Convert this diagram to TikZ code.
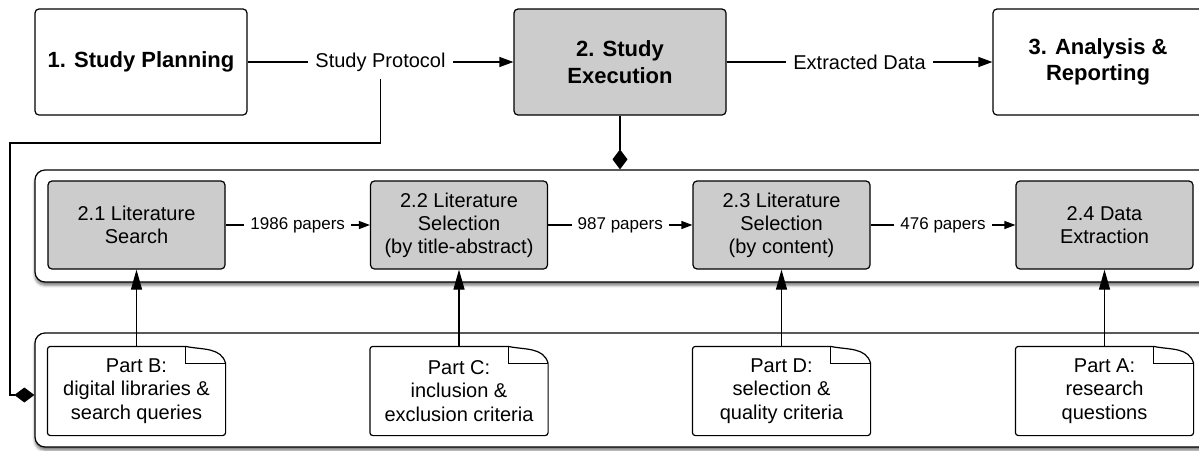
\documentclass[tikz,border=0pt]{standalone}
\usepackage{fontspec}
\setmainfont{Liberation Sans}
\usetikzlibrary{arrows.meta,shadows.blur}
\definecolor{boxgray}{HTML}{CCCCCC}
\begin{document}
\begin{tikzpicture}[x=0.5pt,y=-0.5pt,line width=0.6pt,
  topbox/.style={draw, rounded corners=2pt, minimum width=106pt, minimum height=53pt, align=center, inner sep=0pt, font=\fontsize{11}{13.3}\selectfont\bfseries},
  stepbox/.style={draw, rounded corners=2pt, fill=boxgray, minimum width=88.5pt, minimum height=44pt, align=center, inner sep=0pt, font=\fontsize{10}{11.5}\selectfont},
  notebox/.style={fill=white, minimum width=88.5pt, minimum height=44pt, align=center, inner sep=0pt, font=\fontsize{10}{11.7}\selectfont},
  container/.style={draw, fill=white, rounded corners=5pt, minimum width=597.5pt, inner sep=0pt, blur shadow={shadow xshift=0pt, shadow yshift=-1.6pt, shadow blur radius=1.4pt, shadow opacity=55}},
  lbl/.style={fill=white, inner sep=3.5pt, font=\fontsize{10}{12}\selectfont},
  slbl/.style={fill=white, inner sep=3pt, font=\fontsize{8.5}{10}\selectfont},
  flow/.style={-{Triangle[length=7pt,width=5pt]}},
  sflow/.style={-{Triangle[length=5.5pt,width=4pt]}},
  bigflow/.style={-{Triangle[length=10pt,width=5.5pt]}},
  comp/.style={-{Diamond[length=10pt,width=7.5pt]}},
]
\clip (0,0) rectangle (1199,450);
% containers
\node[container, minimum height=56pt] (top) at (632.5,226) {};
\node[container, minimum height=57pt] (bot) at (632.5,390) {};
% top row
\node[topbox] (b1) at (141,62) {1. Study Planning};
\node[topbox, fill=boxgray] (b2) at (620,62) {2. Study\\Execution};
\node[topbox, minimum width=105pt] (b3) at (1098,62) {3. Analysis \&\\Reporting};
\draw[flow] (b1) -- node[lbl] (sp) {Study Protocol} (b2);
\draw[flow] (b2) -- node[lbl] (ed) {Extracted Data} (b3);
\coordinate (c1) at (10,143);
\draw[comp] (sp.south) |- (c1) |- ([yshift=-2.5pt]bot.west);
\draw[comp] (b2.south) -- (b2.south |- top.north);
% step row
\node[stepbox] (s1) at (136.5,225) {2.1 Literature\\Search};
\node[stepbox] (s2) at (459,225) {2.2 Literature\\Selection\\(by title-abstract)};
\node[stepbox] (s3) at (781.5,225) {2.3 Literature\\Selection\\(by content)};
\node[stepbox] (s4) at (1104.5,225) {2.4 Data\\Extraction};
\draw[sflow] (s1) -- node[slbl] (l1) {1986 papers} (s2);
\draw[sflow] (s2) -- node[slbl] (l2) {987 papers} (s3);
\draw[sflow] (s3) -- node[slbl] (l3) {476 papers} (s4);
% notes
\node[notebox] (nB) at (136.5,391) {Part B:\\digital libraries \&\\search queries};
\node[notebox] (nC) at (459,391) {Part C:\\inclusion \&\\exclusion criteria};
\node[notebox] (nD) at (781.5,391) {Part D:\\selection \&\\quality criteria};
\node[notebox] (nA) at (1104.5,391) {Part A:\\research\\questions};
\foreach \n in {nB,nC,nD,nA}{
  \draw[rounded corners=1.5pt] ([xshift=-20pt]\n.north east) -- (\n.north west) -- (\n.south west) -- (\n.south east) -- ([yshift=-8.5pt]\n.north east);
  \draw ([xshift=-20pt]\n.north east) to[out=-12,in=105] ([yshift=-8.5pt]\n.north east);
  \draw ([xshift=-20pt]\n.north east) -- ([xshift=-20pt,yshift=-8.5pt]\n.north east) -- ([yshift=-8.5pt]\n.north east);
}
\draw[bigflow] (nB) -- (s1);
\draw[bigflow] (nC) -- (s2);
\draw[bigflow] (nD) -- (s3);
\draw[bigflow] (nA) -- (s4);
\end{tikzpicture}
\end{document}
